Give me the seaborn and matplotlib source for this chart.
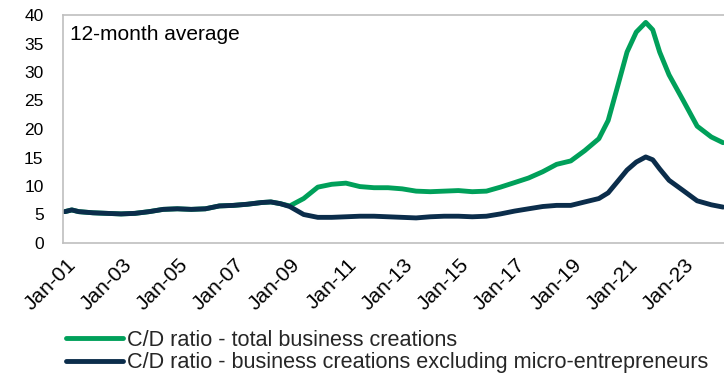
import matplotlib
matplotlib.use("Agg")
import matplotlib.pyplot as plt
import matplotlib.dates as mdates
import matplotlib.transforms as mtransforms
import pandas as pd
import seaborn as sns

# ---- data (12-month average C/D ratio) ----
common_dates = ["2001-01", "2001-04", "2001-07", "2002-01", "2002-07", "2003-01", "2003-07",
                "2004-01", "2004-07", "2005-01", "2005-07", "2006-01", "2006-07", "2007-01",
                "2007-07", "2008-01", "2008-05", "2008-09"]
common_values = [5.5, 5.8, 5.5, 5.3, 5.2, 5.1, 5.2, 5.5, 5.9, 6.0, 5.9, 6.0, 6.5, 6.6,
                 6.8, 7.1, 7.2, 6.9]

later_dates = ["2009-01", "2009-07", "2010-01", "2010-07", "2011-01", "2011-07", "2012-01",
               "2012-07", "2013-01", "2013-07", "2014-01", "2014-07", "2015-01", "2015-07",
               "2016-01", "2016-07", "2017-01", "2017-07", "2018-01", "2018-07", "2019-01",
               "2019-07", "2020-01", "2020-05", "2020-09", "2021-01", "2021-05", "2021-09",
               "2021-12", "2022-03", "2022-07", "2023-01", "2023-07", "2024-01", "2024-06"]
total_later = [6.5, 7.8, 9.8, 10.3, 10.5, 9.9, 9.7, 9.7, 9.5, 9.1, 9.0, 9.1, 9.2, 9.0,
               9.1, 9.8, 10.6, 11.4, 12.5, 13.8, 14.4, 16.2, 18.3, 21.5, 27.5, 33.5, 37.0,
               38.7, 37.4, 33.5, 29.5, 25.0, 20.5, 18.6, 17.6]
excl_later = [6.4, 5.0, 4.5, 4.5, 4.6, 4.7, 4.7, 4.6, 4.5, 4.4, 4.6, 4.7, 4.7, 4.6,
              4.7, 5.1, 5.6, 6.0, 6.4, 6.6, 6.6, 7.2, 7.8, 8.8, 10.8, 12.8, 14.2,
              15.1, 14.6, 13.0, 11.0, 9.2, 7.4, 6.7, 6.3]

label_total = "C/D ratio - total business creations"
label_excl = "C/D ratio - business creations excluding micro-entrepreneurs"
y_ticks = [0, 5, 10, 15, 20, 25, 30, 35, 40]
x_tick_years = list(range(2001, 2024, 2))

dates = pd.to_datetime(common_dates + later_dates)
df_total = pd.DataFrame({"date": dates, "value": common_values + total_later})
df_excl = pd.DataFrame({"date": dates, "value": common_values + excl_later})

# ---- styling ----
sns.set_theme(style="white")
plt.rcParams["font.family"] = ["Liberation Sans", "DejaVu Sans"]

GREEN = "#00A05A"
NAVY = "#0B2D4B"
GRAY = "#BFBFBF"

fig = plt.figure(figsize=(7.24, 3.75), dpi=100)
W, H = 724, 375
left, top, bottom = 63, 15, 243
ax = fig.add_axes([left / W, (H - bottom) / H, (W - left) / W, (bottom - top) / H])

sns.lineplot(data=df_total, x="date", y="value", ax=ax, color=GREEN, linewidth=3.5,
             label=label_total, legend=False)
sns.lineplot(data=df_excl, x="date", y="value", ax=ax, color=NAVY, linewidth=3.5,
             label=label_excl, legend=False)

ax.set_ylim(0, 40)
ax.set_yticks(y_ticks)
ax.set_xlim(pd.Timestamp("2000-12-08"), pd.Timestamp("2024-06-14"))
ax.set_xticks([pd.Timestamp(f"{y}-01-01") for y in x_tick_years])
ax.xaxis.set_major_formatter(mdates.DateFormatter("Jan-%y"))
ax.set_xlabel("")
ax.set_ylabel("")

ax.tick_params(axis="y", length=0, pad=14, labelsize=12.5, labelcolor="#000000")
ax.tick_params(axis="x", length=0, pad=9, labelsize=15, labelcolor="#000000")
shift = mtransforms.ScaledTranslation(1 / 100, 0, fig.dpi_scale_trans)
for lbl in ax.get_xticklabels():
    lbl.set_rotation(45)
    lbl.set_ha("right")
    lbl.set_va("top")
    lbl.set_rotation_mode("anchor")
    lbl.set_transform(lbl.get_transform() + shift)

for side in ["left", "bottom", "top"]:
    ax.spines[side].set_color(GRAY)
    ax.spines[side].set_linewidth(1.2)
ax.spines["right"].set_visible(False)

ax.text(0.011, 0.955, "12-month average", transform=ax.transAxes, fontsize=15,
        ha="left", va="top", color="#000000")

handles, labels = ax.get_legend_handles_labels()
fig.legend(handles, labels, loc="upper left", bbox_to_anchor=(66 / W, 1 - 330 / H),
           frameon=False, fontsize=15.6, handlelength=2.65, handletextpad=0.15,
           labelspacing=0.05, borderaxespad=0, borderpad=0)

fig.savefig("out.png", dpi=100)
